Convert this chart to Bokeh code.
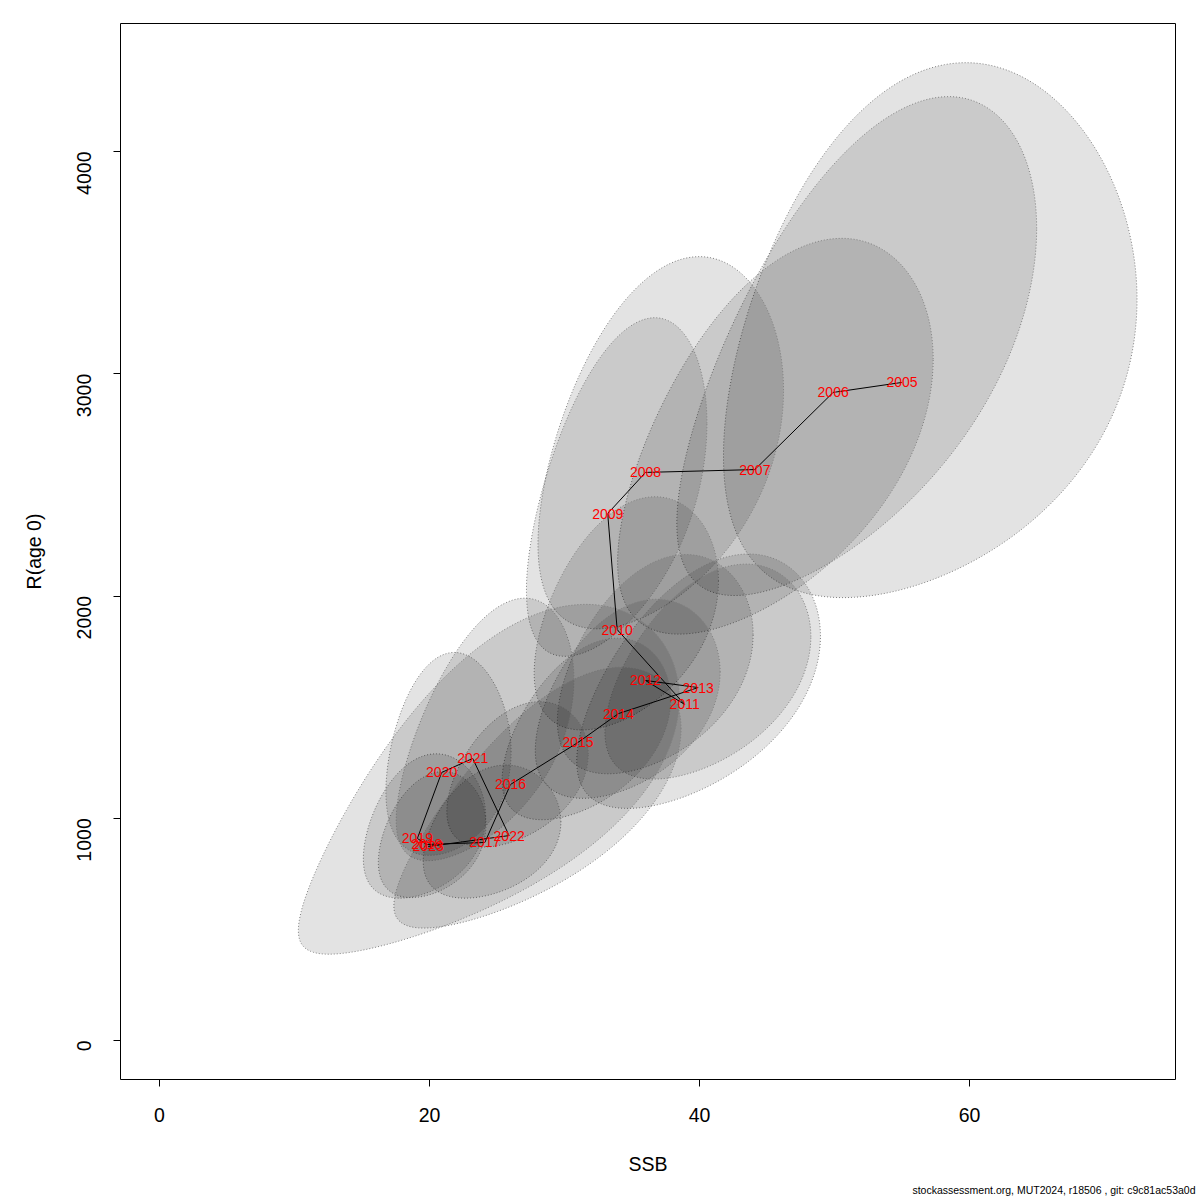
import numpy as np
from bokeh.plotting import figure
from bokeh.models import Range1d, Title, FixedTicker, ColumnDataSource
from bokeh.embed import file_html
from bokeh.resources import INLINE
from bokeh.core.properties import value

# ---------------- data ----------------
years = list(range(2005, 2024))
ssb = [55.0, 49.9, 44.1, 36.0, 33.2, 33.9, 38.9, 36.0, 39.9, 34.0, 31.0, 26.0,
       24.1, 19.8, 19.1, 20.9, 23.2, 25.9, 19.9]
rec = [2961, 2916, 2569, 2556, 2371, 1849, 1512, 1620, 1588, 1471, 1341, 1152,
       891, 882, 909, 1206, 1269, 922, 873]
# 95% region half-widths on log scale and log-scale correlation
log_ssb_hw = [0.275, 0.264, 0.262, 0.25, 0.20, 0.20, 0.23, 0.20, 0.19, 0.20, 0.20, 0.20,
              0.21, 0.20, 0.235, 0.22, 0.28, 0.40, 0.66]
log_rec_hw = [0.396, 0.376, 0.34, 0.322, 0.316, 0.28, 0.37, 0.30, 0.30, 0.30, 0.30, 0.28,
              0.33, 0.316, 0.35, 0.37, 0.45, 0.60, 0.81]
log_corr = [0.30, 0.60, 0.52, 0.42, 0.50, 0.40, 0.50, 0.40, 0.45, 0.40, 0.45, 0.40,
            0.30, 0.30, 0.30, 0.20, 0.55, 0.70, 0.70]
x_ticks = [0, 20, 40, 60]
y_ticks = [0, 1000, 2000, 3000, 4000]
footer = "stockassessment.org, MUT2024, r18506 , git: c9c81ac53a0d"

# ---------------- ellipses (log scale -> natural scale) ----------------
t = np.linspace(0, 2 * np.pi, 240)
xs, ys = [], []
for s, r, hx, hy, rho in zip(ssb, rec, log_ssb_hw, log_rec_hw, log_corr):
    lx = np.log(s) + hx * np.cos(t)
    ly = np.log(r) + hy * (rho * np.cos(t) + np.sqrt(1 - rho ** 2) * np.sin(t))
    xs.append(list(np.exp(lx)))
    ys.append(list(np.exp(ly)))

FONT = "Liberation Sans"

p = figure(width=1200, height=1200, output_backend="svg", toolbar_location=None,
           x_range=Range1d(-2.89, 75.26), y_range=Range1d(-175.5, 4576),
           min_border_left=120, min_border_right=25, min_border_top=23, min_border_bottom=121)
p.background_fill_color = "white"
p.border_fill_color = "white"
p.outline_line_color = "black"
p.outline_line_width = 1
p.grid.visible = False

p.patches(xs, ys, fill_color="black", fill_alpha=0.11, line_color="#7f7f7f",
          line_width=1, line_dash="1 2")

src = ColumnDataSource(dict(x=ssb, y=rec, lab=[str(y) for y in years]))
p.line("x", "y", source=src, line_color="black", line_width=1)
p.text("x", "y", text="lab", source=src, text_color="red", text_align="center",
       text_baseline="middle", text_font=value(FONT), text_font_size="14px")

for ax in (p.xaxis[0], p.yaxis[0]):
    ax.axis_line_color = None
    ax.major_tick_line_color = "black"
    ax.major_tick_out = 7
    ax.major_tick_in = 0
    ax.minor_tick_line_color = None
    ax.major_label_text_font = FONT
    ax.major_label_text_font_size = "19.5px"
    ax.major_label_text_color = "black"
    ax.axis_label_text_font = FONT
    ax.axis_label_text_font_size = "19.5px"
    ax.axis_label_text_font_style = "normal"
    ax.axis_label_text_color = "black"

p.xaxis.ticker = FixedTicker(ticks=x_ticks)
p.yaxis.ticker = FixedTicker(ticks=y_ticks)
p.xaxis.axis_label = "SSB"
p.yaxis.axis_label = "R(age 0)"
p.xaxis.major_label_standoff = 21
p.xaxis.axis_label_standoff = 28
p.yaxis.major_label_orientation = np.pi / 2
p.yaxis.major_label_standoff = 29
p.yaxis.axis_label_standoff = 23

p.add_layout(Title(text=footer, align="right", offset=-20, standoff=8,
                   text_font=FONT, text_font_size="10.5px", text_font_style="normal",
                   text_color="black"), "below")

open("out.html", "w").write(file_html(p, INLINE))
